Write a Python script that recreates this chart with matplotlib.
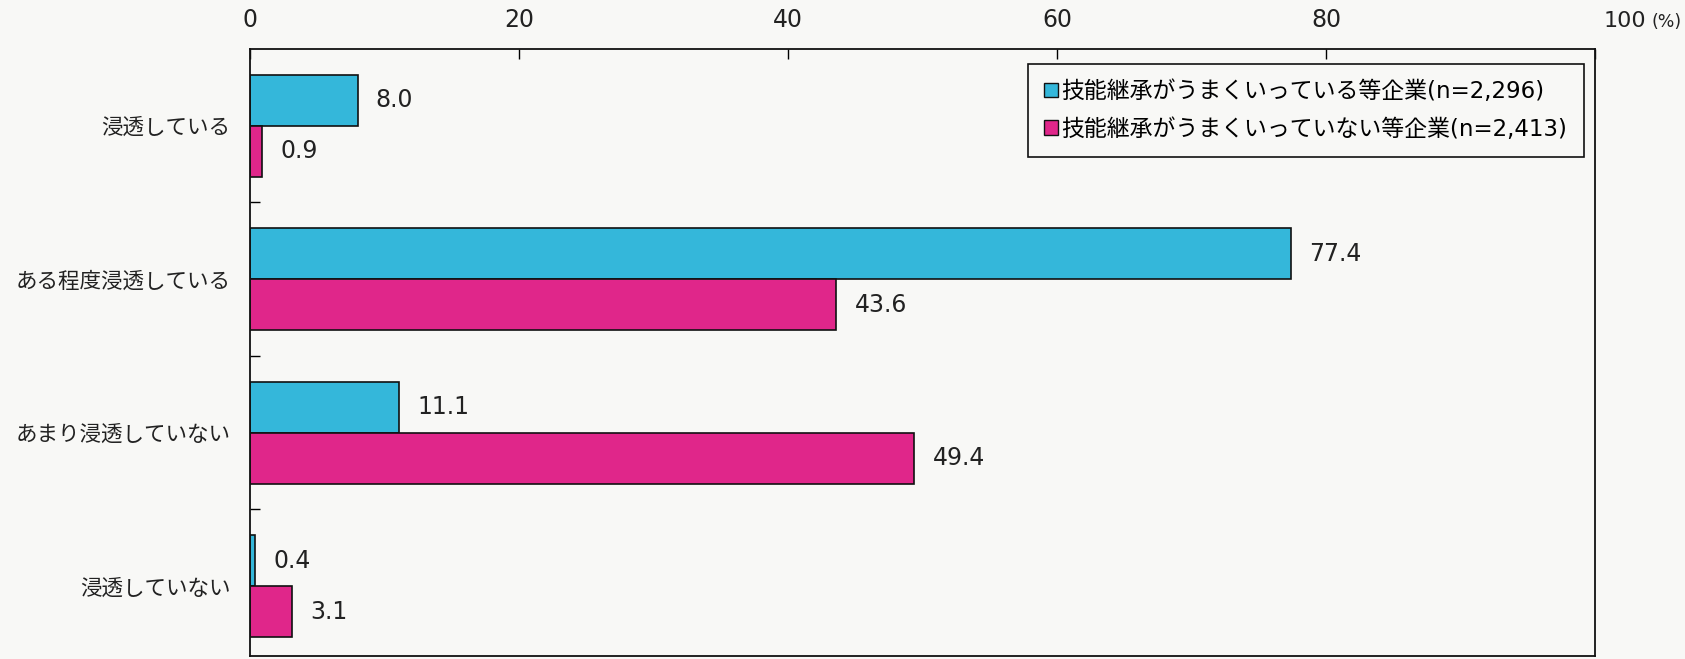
import matplotlib
matplotlib.use("Agg")
import matplotlib.pyplot as plt
from matplotlib.patches import Patch
import numpy as np

# Survey data: degree of penetration, by success of skill transfer
categories = ["浸透している", "ある程度浸透している", "あまり浸透していない", "浸透していない"]
series_names = ["技能継承がうまくいっている等企業(n=2,296)",
                "技能継承がうまくいっていない等企業(n=2,413)"]
good_values = [8.0, 77.4, 11.1, 0.4]
bad_values = [0.9, 43.6, 49.4, 3.1]
x_ticks = [0, 20, 40, 60, 80, 100]
x_tick_labels = ["0", "20", "40", "60", "80", ""]
last_tick_label = "100"
unit_label = "(%)"

CYAN = "#34b7da"
MAGENTA = "#e0268a"
BG = "#f8f8f6"
INK = "#222222"
CJK = ["Noto Sans CJK JP", "DejaVu Sans"]
MIXED = ["DejaVu Sans", "Noto Sans CJK JP"]

fig = plt.figure(figsize=(16.85, 6.59), dpi=100, facecolor=BG)
ax = fig.add_axes([250 / 1685, 1 - 656 / 659, (1595 - 250) / 1685, (656 - 49) / 659])
ax.set_facecolor(BG)

y = np.arange(len(categories))
h = 0.332
ax.barh(y - h / 2, good_values, height=h, color=CYAN, edgecolor="#111111", linewidth=1.2)
ax.barh(y + h / 2, bad_values, height=h, color=MAGENTA, edgecolor="#111111", linewidth=1.2)

for yi, v in zip(y, good_values):
    ax.annotate(f"{v:.1f}", xy=(v, yi - h / 2), xytext=(13, 0), textcoords="offset points",
                va="center", ha="left", fontsize=17, family="DejaVu Sans", color=INK)
for yi, v in zip(y, bad_values):
    ax.annotate(f"{v:.1f}", xy=(v, yi + h / 2), xytext=(13, 0), textcoords="offset points",
                va="center", ha="left", fontsize=17, family="DejaVu Sans", color=INK)

ax.set_xlim(0, 100)
ax.set_ylim(3.456, -0.5)

# x axis on top, ticks pointing inward
ax.xaxis.tick_top()
ax.set_xticks(x_ticks)
ax.set_xticklabels(x_tick_labels, fontsize=17, family="DejaVu Sans", color=INK)
ax.tick_params(axis="x", direction="in", length=7, width=1, pad=12)
ax.annotate(last_tick_label, xy=(100, 1), xycoords=("data", "axes fraction"),
            xytext=(6.5, 16), textcoords="offset points", ha="left", va="baseline",
            fontsize=16, family="DejaVu Sans", color=INK)
ax.annotate(unit_label, xy=(100, 1), xycoords=("data", "axes fraction"),
            xytext=(41, 16), textcoords="offset points", ha="left", va="baseline",
            fontsize=12.5, family="DejaVu Sans", color=INK)

# category labels, ticks on group boundaries
ax.set_yticks(y)
ax.set_yticklabels(categories, fontsize=15.5, family=CJK, color=INK)
ax.tick_params(axis="y", length=0, pad=14)
ax.set_yticks([0.5, 1.5, 2.5], minor=True)
ax.tick_params(axis="y", which="minor", direction="in", length=7, width=1)

for s in ax.spines.values():
    s.set_linewidth(1.3)
    s.set_color("#111111")

handles = [Patch(facecolor=CYAN, edgecolor="#111111", linewidth=1),
           Patch(facecolor=MAGENTA, edgecolor="#111111", linewidth=1)]
leg = ax.legend(handles, series_names, loc="upper right",
                bbox_to_anchor=(0.9918, 0.976), borderaxespad=0,
                prop=dict(family=MIXED, size=16.5), frameon=True, fancybox=False,
                handlelength=0.6, handleheight=0.6, handletextpad=0.15,
                labelspacing=0.64, borderpad=0.72)
leg.get_frame().set_edgecolor("#111111")
leg.get_frame().set_linewidth(1.2)
leg.get_frame().set_facecolor(BG)
leg.get_frame().set_alpha(1)

fig.savefig("out.png", dpi=100, facecolor=BG)
